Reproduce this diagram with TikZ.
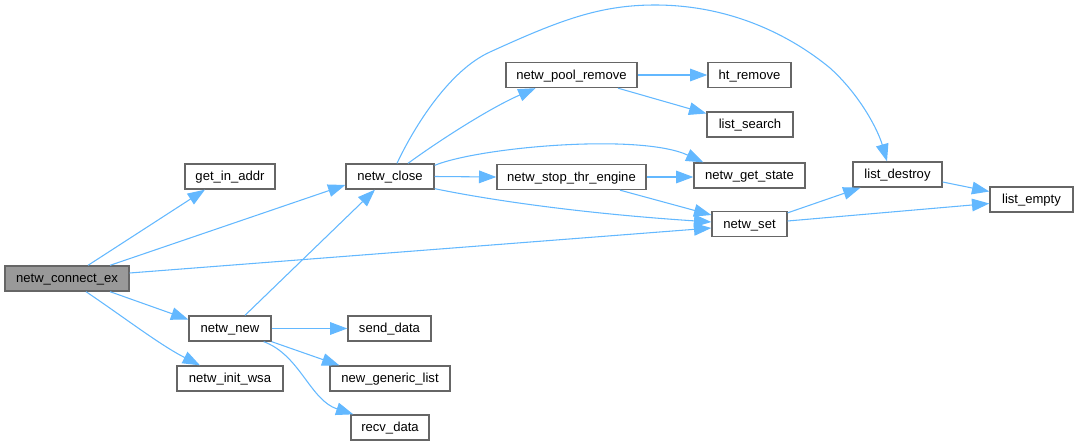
\documentclass[tikz,border=0pt]{standalone}
\usepackage{fontspec}
\setmainfont{Liberation Sans}
\usetikzlibrary{arrows.meta}
\definecolor{edgeblue}{HTML}{63B8FF}
\definecolor{boxborder}{HTML}{666666}
\definecolor{rootfill}{HTML}{999999}
\tikzset{
  fn/.style={draw=boxborder, fill=white, line width=1pt, inner sep=0pt,
    minimum height=18.75pt, text height=8pt, text depth=2pt,
    font=\fontsize{9.8pt}{11pt}\selectfont},
  bw/.style={minimum width=#1*0.75pt},
  root/.style={fn, fill=rootfill},
  call/.style={draw=edgeblue, line width=0.8pt,
    -{Triangle[length=13pt, width=9.5pt]}}
}
\begin{document}
\begin{tikzpicture}[x=0.75pt, y=-0.75pt]
\useasboundingbox (0,0) rectangle (1079,446);
% nodes
\node[root, bw=124] (c) at (67,278.5) {netw\_connect\_ex};
\node[fn, bw=90] (gia) at (230,176.5) {get\_in\_addr};
\node[fn, bw=88] (close) at (390,176.5) {netw\_close};
\node[fn, bw=82] (new) at (230,328.5) {netw\_new};
\node[fn, bw=106] (wsa) at (230,378.5) {netw\_init\_wsa};
\node[fn, bw=83] (send) at (389.5,328.5) {send\_data};
\node[fn, bw=120] (ngl) at (390,378.5) {new\_generic\_list};
\node[fn, bw=78] (recv) at (390,427.5) {recv\_data};
\node[fn, bw=131] (pool) at (571.5,75) {netw\_pool\_remove};
\node[fn, bw=83] (ht) at (749.5,75) {ht\_remove};
\node[fn, bw=86] (search) at (750,124.5) {list\_search};
\node[fn, bw=149] (stop) at (571.5,177) {netw\_stop\_thr\_engine};
\node[fn, bw=111] (gst) at (749.5,175.5) {netw\_get\_state};
\node[fn, bw=75] (set) at (749.5,224) {netw\_set};
\node[fn, bw=89] (destroy) at (897.5,174.5) {list\_destroy};
\node[fn, bw=83] (empty) at (1031.5,199.5) {list\_empty};
% edges from netw_connect_ex
\draw[call] ([shift={(21,0)}]c.north) -- ([shift={(-25,0)}]gia.south);
\draw[call] ([shift={(43,0)}]c.north) -- ([shift={(0,8.5)}]close.west);
\draw[call] ([shift={(0,-5.5)}]c.east) -- ([shift={(0,4)}]set.west);
\draw[call] ([shift={(43,0)}]c.south) -- ([shift={(0,-9)}]new.west);
\draw[call] ([shift={(19,0)}]c.south) .. controls (125,318) and (160,345) .. ([shift={(-30,0)}]wsa.north);
% edges from netw_new
\draw[call] ([shift={(15,0)}]new.north) -- ([shift={(-15,0)}]close.south);
\draw[call] (new.east) -- (send.west);
\draw[call] (new.south east) -- ([shift={(10,0)}]ngl.north west);
\draw[call] ([shift={(-8,0)}]new.south east) .. controls (300,355) and (310,400) .. ([shift={(3,0)}]recv.north west);
% edges from netw_close
\draw[call] ([shift={(7,0)}]close.north) .. controls (415,125) and (450,70) .. (490,52)
  .. controls (560,20) and (600,5) .. (655,5)
  .. controls (730,5) and (790,35) .. (830,68)
  .. controls (860,95) and (878,130) .. ([shift={(-10.5,0)}]destroy.north);
\draw[call] ([shift={(18,0)}]close.north) .. controls (440,140) and (490,108) .. ([shift={(-36,0)}]pool.south);
\draw[call] ([shift={(0,2)}]close.north east) .. controls (480,147) and (640,133) .. ([shift={(10,0)}]gst.north west);
\draw[call] (close.east) -- (stop.west);
\draw[call] ([shift={(0,-1)}]close.south east) .. controls (470,196) and (560,212) .. ([shift={(0,-2)}]set.west);
% other edges
\draw[call] (pool.east) -- (ht.west);
\draw[call] ([shift={(46.5,0)}]pool.south) -- ([shift={(0,-11)}]search.west);
\draw[call] (stop.east) -- ([shift={(0,1.5)}]gst.west);
\draw[call] ([shift={(48.5,0)}]stop.south) -- ([shift={(0,-9)}]set.west);
\draw[call] ([shift={(0,2)}]set.north east) -- ([shift={(-37,0)}]destroy.south);
\draw[call] ([shift={(0,-3)}]set.east) -- ([shift={(0,4)}]empty.west);
\draw[call] ([shift={(0,7.5)}]destroy.east) -- ([shift={(0,-8)}]empty.west);
\end{tikzpicture}
\end{document}
